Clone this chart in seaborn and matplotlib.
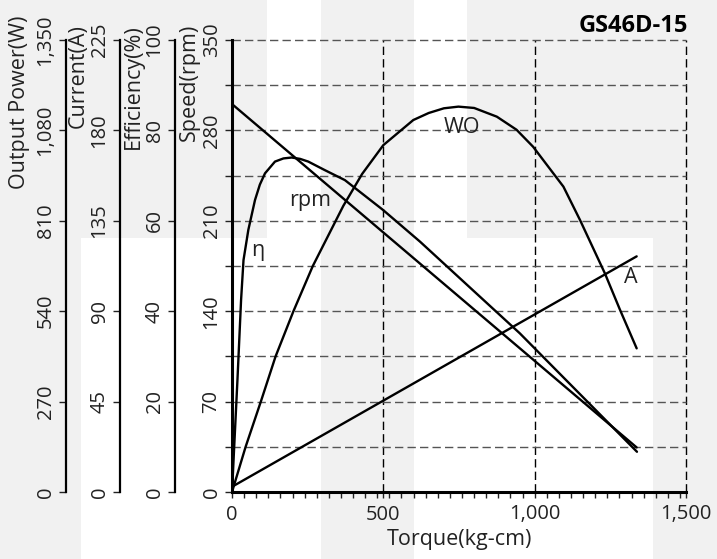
import numpy as np
import matplotlib
matplotlib.use("Agg")
import matplotlib.pyplot as plt
import seaborn as sns
from matplotlib.patches import Rectangle
from matplotlib.ticker import MultipleLocator, FuncFormatter

# Values (torque in kg-cm)
speed_torque = [0, 1337]
speed_rpm = [300.4, 34.5]

current_torque = [0, 1337]
current_amp = [2.6, 117.3]

eff_torque = [0, 18, 30, 38, 54, 76, 92, 109, 142, 170, 197, 225, 252, 307, 373, 499, 621, 951, 1338]
eff_pct = [0, 24.8, 42.5, 51.3, 58.0, 64.6, 68.0, 70.5, 73.1, 73.8, 74.0, 73.7, 73.1, 71.2, 69.0, 62.4,
           55.4, 35.1, 8.9]

power_torque = [0, 45, 96, 144, 203, 267, 368, 430, 500, 599, 650, 700, 748, 800, 875, 940, 995,
                1095, 1150, 1232, 1282, 1337]
power_w = [0, 135, 272, 405, 540, 675, 855, 950, 1036, 1111, 1132, 1146, 1151, 1147, 1121, 1082, 1031,
           912, 812, 653, 544, 429]

model = "GS46D-15"

sns.set_theme(style="white")
plt.rcParams["font.family"] = ["Open Sans", "DejaVu Sans"]

W, H = 717, 559
fig = plt.figure(figsize=(W / 100, H / 100), dpi=100)
fig.patch.set_facecolor("#f1f1f1")

# white blocks of the background pattern (pixel boxes: x0, y0, x1, y1 from top-left)
for x0, y0, x1, y1 in [(267, 0, 321, 238), (414, 0, 467, 238), (81, 238, 321, 559), (414, 238, 653, 559)]:
    fig.add_artist(Rectangle((x0 / W, 1 - y1 / H), (x1 - x0) / W, (y1 - y0) / H,
                             transform=fig.transFigure, facecolor="white", edgecolor="none", zorder=-5))

ax = fig.add_axes([232 / W, 1 - 492 / H, 454 / W, 452 / H])
ax.set_facecolor("none")

ink = "#222222"
fs = 14.5
lfs = 15.5
comma = FuncFormatter(lambda v, p: f"{v:,.0f}")

# speed on the main axis
sns.lineplot(x=speed_torque, y=speed_rpm, ax=ax, color="black", lw=1.7)
ax.set_xlim(0, 1500)
ax.set_ylim(0, 350)
ax.set_xticks([0, 500, 1000, 1500])
ax.xaxis.set_major_formatter(comma)
ax.xaxis.set_minor_locator(MultipleLocator(40))
ax.yaxis.set_major_locator(MultipleLocator(70))
ax.yaxis.set_minor_locator(MultipleLocator(35))
for s in ["top", "right"]:
    ax.spines[s].set_visible(False)
for s in ["left", "bottom"]:
    ax.spines[s].set_linewidth(2.2)
    ax.spines[s].set_color("black")
ax.grid(which="both", axis="y", ls=(0, (6, 3)), color="#555555", lw=1)
ax.grid(which="major", axis="x", ls=(0, (6, 3)), color="black", lw=1)
ax.tick_params(axis="x", which="both", direction="out", length=4, width=1, color=ink,
               labelsize=fs, labelcolor=ink, pad=5, bottom=True)
ax.tick_params(axis="y", which="both", direction="out", length=5, width=1, color=ink,
               labelsize=fs, labelcolor=ink, pad=2.5, left=True, labelrotation=90)
ax.set_xlabel("Torque(kg-cm)", fontsize=lfs, color=ink, labelpad=3)


def side_axis(pos, top, label, label_x, label_y, xs, ys):
    a = ax.twinx()
    sns.lineplot(x=xs, y=ys, ax=a, color="black", lw=1.7)
    a.set_ylim(0, top)
    a.yaxis.set_major_locator(MultipleLocator(top / 5))
    a.yaxis.set_major_formatter(comma)
    a.yaxis.tick_left()
    a.yaxis.set_label_position("left")
    a.spines["left"].set_position(("axes", pos))
    a.spines["left"].set_linewidth(1.6)
    a.spines["left"].set_color("black")
    for s in ["top", "right", "bottom"]:
        a.spines[s].set_visible(False)
    a.tick_params(axis="y", direction="out", length=5, width=1, color=ink,
                  labelsize=fs, labelcolor=ink, pad=2.5, labelrotation=90)
    a.set_ylabel(label, fontsize=lfs, color=ink, loc="top")
    a.yaxis.set_label_coords(label_x, label_y)
    a.yaxis.label.set_va("center")
    return a


axes = [
    side_axis(-0.3656, 1350, "Output Power(W)", -0.4670, 1.055, power_torque, power_w),
    side_axis(-0.2467, 225, "Current(A)", -0.3380, 1.035, current_torque, current_amp),
    side_axis(-0.1256, 100, "Efficiency(%)", -0.2170, 1.035, eff_torque, eff_pct),
]
ax.set_ylabel("Speed(rpm)", fontsize=lfs, color=ink, loc="top")
ax.yaxis.set_label_coords(-0.0930, 1.035)
ax.yaxis.label.set_va("center")

fig.canvas.draw()
for a in [ax] + axes:
    labels = a.get_yticklabels()
    for lbl in labels:
        lbl.set_verticalalignment("center")
    labels[-1].set_verticalalignment("bottom")
# let the grid lines on the 1,500 and 350 edges show in full
for t in ax.xaxis.get_major_ticks() + ax.yaxis.get_major_ticks() + ax.yaxis.get_minor_ticks():
    t.gridline.set_clip_on(False)

# curve names
ax.text(760, 282, "WO", fontsize=lfs, ha="center", va="center", color=ink)
ax.text(258, 226, "rpm", fontsize=lfs, ha="center", va="center", color=ink)
ax.text(86, 187, "η", fontsize=lfs, ha="center", va="center", color=ink)
ax.text(1318, 166, "A", fontsize=lfs, ha="center", va="center", color=ink)

fig.text(688 / W, 1 - 32 / H, model, ha="right", va="baseline", fontsize=17,
         fontweight="bold", color="black")

fig.savefig("out.png", dpi=100, facecolor=fig.get_facecolor())
